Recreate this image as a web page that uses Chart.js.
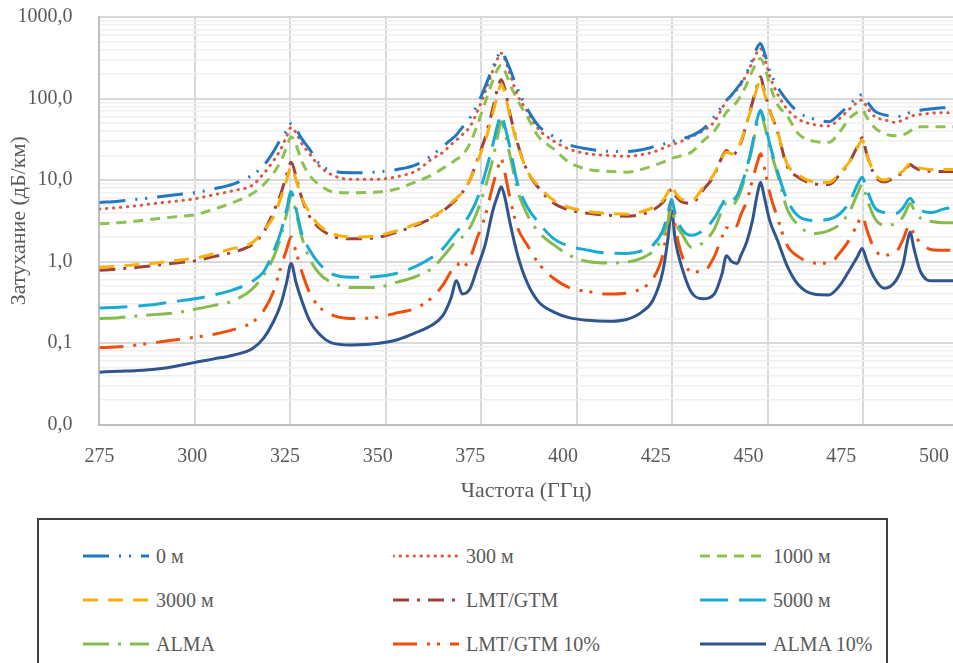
<!DOCTYPE html>
<html>
<head>
<meta charset="utf-8">
<script src="https://cdn.jsdelivr.net/npm/chart.js@4.4.1/dist/chart.umd.min.js"></script>
<style>
  html, body { margin: 0; padding: 0; background: #fff; width: 953px; height: 663px; overflow: hidden; }
  #wrap { position: absolute; left: 0; top: 0; width: 953px; height: 512px; }
  #legend {
    position: absolute; left: 37px; top: 518px; width: 851px; height: 180px;
    box-sizing: border-box; border: 2px solid #404040; background: #fff;
    display: grid; grid-template-columns: 310px 307px 200px; grid-auto-rows: 44px;
    padding: 14px 0 0 44px;
    font-family: "Liberation Serif", "Times New Roman", serif; font-size: 20px; color: #595959;
  }
  .item { display: flex; align-items: center; white-space: nowrap; }
  .item svg { flex: none; margin-right: 7px; }
</style>
</head>
<body>
<div id="wrap"><canvas id="c" width="953" height="512"></canvas></div>
<div id="legend"></div>
<script>
// ---------- DATA ----------
const freqs = [
  275, 280, 285, 290, 295, 300, 305, 310, 315, 318,
  320.5, 322.5, 324, 325.2, 326.5, 328, 330, 332.5, 336, 341,
  347, 353, 358, 362, 365, 367, 368.5, 370, 372, 374,
  376, 378, 379.3, 380.2, 381.2, 382.5, 384.5, 387, 390, 394,
  398, 403, 408, 413, 417, 420, 422.5, 423.8, 424.8, 425.8,
  427.5, 430, 433, 436, 438, 439.2, 440.5, 442, 443, 444.5,
  446, 447.2, 448.1, 449, 450.5, 452.5, 455, 458, 462, 466,
  469, 471.5, 473.5, 474.7, 476, 478, 480.5, 483.5, 485.5, 486.6,
  487.3, 488.2, 490, 493, 496, 498.5
];

const seriesNames = ['0 м', '300 м', '1000 м', '3000 м', 'LMT/GTM', '5000 м', 'ALMA', 'LMT/GTM 10%', 'ALMA 10%'];

const att0m = [
  5.3, 5.5, 5.8, 6.2, 6.6, 7.0, 7.8, 8.9, 11.5, 15,
  22, 32, 40, 49, 42, 32, 24, 16, 13, 12.3,
  12.5, 13.5, 15.5, 20, 26, 31, 36, 44, 58, 85,
  140, 240, 330, 380, 320, 230, 130, 75, 46, 34,
  27, 24, 22.5, 22.4, 23.5, 25.5, 27.5, 28.5, 29.5, 30.5,
  32, 35, 42, 60, 80, 95, 110, 135, 155, 210,
  300, 420, 474, 380, 220, 140, 95, 68, 56, 52,
  66, 85, 104, 111, 92, 70, 63, 60, 62, 65,
  68, 70, 72, 75, 77, 77
];
const att300m = [
  4.4, 4.6, 4.85, 5.2, 5.5, 5.9, 6.6, 7.4, 8.6, 12,
  17, 24, 34, 44, 38, 28, 21, 15, 11.5, 10.2,
  10.2, 11, 13, 18, 22, 27, 31, 36, 45, 70,
  120, 220, 310, 360, 300, 200, 110, 70, 42, 30,
  24, 21, 20, 19.5, 20.5, 22, 24.5, 26, 27, 28,
  30, 34, 40, 52, 75, 95, 110, 130, 150, 200,
  280, 370, 410, 330, 190, 115, 75, 56, 48, 46,
  58, 75, 90, 96, 78, 60, 55, 51, 55, 58,
  60, 62, 64, 66, 67, 67
];
const att1000m = [
  2.9, 3.0, 3.15, 3.35, 3.55, 3.75, 4.4, 5.3, 6.8, 8.8,
  12, 17, 25, 34, 27, 17, 11.5, 8.8, 7.2, 7.0,
  7.1, 7.8, 9.6, 11.5, 14, 16, 18, 20, 28, 48,
  90, 165, 230, 258, 215, 150, 95, 60, 34, 24,
  16.5, 13.5, 12.8, 12.5, 13.5, 15, 16.5, 17.5, 18.5, 19,
  20, 22, 30, 40, 55, 68, 78, 92, 110, 150,
  220, 280, 310, 260, 150, 85, 62, 37, 30, 29,
  40, 58, 68, 73, 58, 44, 37, 35, 36, 38,
  40, 43, 45, 45, 45, 45
];
const att3000m = [
  0.85, 0.88, 0.92, 0.96, 1.03, 1.10, 1.25, 1.45, 1.7, 2.4,
  3.5, 6.0, 10, 14.5, 10, 6, 4.0, 2.8, 2.2, 2.0,
  2.05, 2.4, 2.9, 3.5, 4.3, 5.2, 6.0, 7.0, 10, 17,
  30, 65, 115, 150, 115, 60, 27, 13, 8.4, 5.6,
  4.6, 4.1, 3.9, 3.8, 4.1, 4.6, 5.6, 7.0, 8.6, 7.0,
  5.8, 5.6, 8.0, 12, 19, 22, 21, 24, 30, 50,
  85, 135, 170, 120, 70, 40, 16, 11.5, 9.5, 9.3,
  12.5, 17, 25, 31, 20, 12, 10, 11.5, 13, 15,
  16, 15, 14, 13.5, 13.5, 13.5
];
const attLmt = [
  0.78, 0.81, 0.85, 0.90, 0.96, 1.02, 1.15, 1.30, 1.62, 2.3,
  4.0, 6.8, 11.5, 16.5, 11, 6, 3.6, 2.6, 2.05, 1.9,
  1.95, 2.3, 2.8, 3.4, 4.2, 5.0, 5.8, 7, 10, 18,
  33, 75, 135, 170, 130, 65, 28, 13, 8, 5.2,
  4.3, 3.9, 3.7, 3.6, 3.8, 4.3, 5.3, 6.5, 7.8, 6.5,
  5.4, 5.2, 7.5, 11.5, 19, 23, 20, 23, 29, 50,
  90, 145, 185, 130, 72, 40, 15, 10.8, 9, 8.8,
  12, 17, 26, 33, 20, 11.5, 9.5, 11, 12.5, 14.5,
  15.5, 14.5, 13.2, 12.8, 12.7, 12.7
];
const att5000m = [
  0.27, 0.275, 0.285, 0.30, 0.325, 0.35, 0.39, 0.45, 0.57, 0.75,
  1.3, 2.3, 4.3, 7.2, 4.4, 2.2, 1.4, 0.95, 0.70, 0.64,
  0.65, 0.72, 0.88, 1.12, 1.45, 1.9, 2.3, 2.8, 3.8, 6,
  12, 27, 48, 63, 45, 25, 9, 4.7, 3.0, 1.9,
  1.55, 1.38, 1.27, 1.26, 1.35, 1.6, 2.4, 3.8, 5.8, 3.8,
  2.5, 2.1, 2.4, 3.4, 5.0, 6.0, 5.6, 6.5, 8.5, 14,
  28, 55, 72, 55, 28, 13, 5.8, 3.6, 3.2, 3.3,
  3.9, 5.5, 8.8, 10.8, 7.5, 4.6, 4.0, 3.9, 4.6, 5.6,
  6.0, 5.3, 4.3, 4.0, 4.4, 4.6
];
const attAlma = [
  0.20, 0.205, 0.215, 0.225, 0.235, 0.26, 0.29, 0.33, 0.46, 0.68,
  1.1, 2.0, 3.8, 6.3, 4.0, 2.0, 1.1, 0.72, 0.55, 0.48,
  0.48, 0.56, 0.66, 0.82, 1.15, 1.5, 1.8, 2.0, 2.6, 4.2,
  8.0, 18, 35, 52, 38, 20, 7.5, 3.8, 2.3, 1.6,
  1.2, 1.0, 0.96, 0.98, 1.1, 1.35, 2.0, 3.0, 4.5, 3.0,
  2.2, 1.5, 1.7, 2.5, 4.2, 5.2, 4.8, 5.8, 7.5, 13,
  26, 50, 68, 50, 25, 12, 4.5, 2.8, 2.2, 2.4,
  2.9, 4.2, 6.8, 8.8, 5.8, 3.4, 2.8, 2.9, 3.6, 4.6,
  5.2, 4.4, 3.4, 3.1, 3.0, 3.0
];
const attLmt10 = [
  0.088, 0.090, 0.095, 0.102, 0.110, 0.118, 0.128, 0.146, 0.18, 0.25,
  0.42, 0.85, 1.4, 2.0, 1.3, 0.75, 0.42, 0.28, 0.22, 0.20,
  0.205, 0.235, 0.27, 0.36, 0.52, 0.75, 0.95, 0.85, 1.1, 2.0,
  3.6, 8.5, 14, 18, 12, 6.0, 2.6, 1.6, 0.95, 0.62,
  0.48, 0.43, 0.40, 0.41, 0.47, 0.62, 1.2, 2.8, 5.5, 2.6,
  1.2, 0.75, 0.75, 1.15, 2.0, 2.6, 2.4, 2.8, 3.8, 5.5,
  10, 16, 21, 15, 7, 3.5, 1.6, 1.15, 0.96, 0.95,
  1.3, 1.9, 2.9, 3.6, 2.4, 1.4, 1.2, 1.3, 1.9, 2.6,
  2.8, 2.2, 1.7, 1.4, 1.38, 1.38
];
const attAlma10 = [
  0.044, 0.045, 0.046, 0.048, 0.052, 0.058, 0.064, 0.071, 0.085, 0.115,
  0.18, 0.30, 0.55, 0.95, 0.55, 0.33, 0.19, 0.13, 0.10, 0.095,
  0.098, 0.11, 0.135, 0.165, 0.22, 0.35, 0.58, 0.40, 0.46, 0.85,
  1.6, 4.2, 6.5, 8.3, 6.0, 3.0, 1.2, 0.55, 0.32, 0.24,
  0.205, 0.19, 0.185, 0.195, 0.24, 0.34, 0.75, 1.8, 4.2, 1.8,
  0.85, 0.42, 0.35, 0.40, 0.70, 1.18, 1.0, 0.95, 1.2, 1.75,
  3.2, 6.5, 9.4, 6.5, 3.2, 1.85, 0.9, 0.52, 0.40, 0.39,
  0.52, 0.8, 1.15, 1.45, 1.0, 0.62, 0.47, 0.58, 0.95, 1.8,
  2.3, 1.5, 0.75, 0.58, 0.58, 0.58
];

const xTickLabels = [275, 300, 325, 350, 375, 400, 425, 450, 475, 500];
const yMin = 0.01, yMax = 1000;

// ---------- STYLES ----------
const seriesValues = [att0m, att300m, att1000m, att3000m, attLmt, att5000m, attAlma, attLmt10, attAlma10];
const seriesColors = ['#2178BE', '#DC5A44', '#8DC253', '#F7B10A', '#A0413A', '#1AABD2', '#86BC4E', '#F04E0C', '#30558E'];
const seriesDash = [
  [26, 10, 2, 8, 2, 10],
  [0.5, 6.5],
  [10, 7],
  [15, 10],
  [16, 8, 3, 8],
  [28, 11],
  [26, 9, 3, 9],
  [24, 10, 3, 7, 3, 10],
  []
];
const seriesCap = ['butt', 'round', 'butt', 'butt', 'butt', 'butt', 'butt', 'butt', 'butt'];

const FONT = '"Liberation Serif", "Times New Roman", serif';
const TEXT = '#595959';

function isDecade(v) {
  const l = Math.log10(v);
  return Math.abs(l - Math.round(l)) < 1e-9;
}
function buildLogTicks() {
  const t = [];
  for (let e = Math.log10(yMin); e < Math.log10(yMax); e++) {
    for (let k = 1; k <= 9; k++) t.push({ value: k * Math.pow(10, e) });
  }
  t.push({ value: yMax });
  return t;
}

const datasets = seriesNames.map((name, i) => ({
  label: name,
  data: freqs.map((f, j) => ({ x: f, y: seriesValues[i][j] })),
  borderColor: seriesColors[i],
  backgroundColor: seriesColors[i],
  borderDash: seriesDash[i],
  borderCapStyle: seriesCap[i],
  borderWidth: 3,
  pointRadius: 0,
  fill: false,
  cubicInterpolationMode: 'monotone',
  xAxisID: 'x',
  yAxisID: 'y'
}));

const chart = new Chart(document.getElementById('c'), {
  type: 'line',
  data: { datasets },
  options: {
    responsive: false,
    animation: false,
    devicePixelRatio: 1,
    layout: { padding: { top: 17, left: 0, right: 0, bottom: 4 } },
    plugins: { legend: { display: false }, tooltip: { enabled: false } },
    scales: {
      x: {
        type: 'linear', position: 'bottom', weight: 0,
        min: xTickLabels[0], max: 498.5,
        afterBuildTicks: (s) => { s.ticks = xTickLabels.filter(v => v <= s.max).map(v => ({ value: v })); },
        ticks: { display: false, autoSkip: false },
        grid: { drawTicks: false, color: '#d9d9d9', lineWidth: 2 },
        border: { display: true, color: '#bfbfbf', width: 2 }
      },
      x2: {
        type: 'linear', position: 'bottom', weight: 1,
        min: xTickLabels[0], max: 505.1,
        afterBuildTicks: (s) => { s.ticks = xTickLabels.map(v => ({ value: v })); },
        afterFit: (s) => { s.paddingRight = 0; s.paddingLeft = 0; },
        ticks: { autoSkip: false, maxRotation: 0, padding: 20, color: TEXT, font: { family: FONT, size: 20 } },
        grid: { display: false, drawTicks: false },
        border: { display: false },
        title: { display: true, text: 'Частота (ГГц)', color: TEXT, font: { family: FONT, size: 22 }, padding: { top: -11, bottom: 4 } }
      },
      y: {
        type: 'logarithmic', position: 'left',
        min: yMin, max: yMax,
        afterBuildTicks: (s) => { s.ticks = buildLogTicks(); },
        afterFit: (s) => { s.paddingTop = 0; s.paddingBottom = 0; },
        ticks: {
          autoSkip: false, padding: 27, color: TEXT, font: { family: FONT, size: 20 },
          callback: (v) => isDecade(v) ? Number(v).toFixed(1).replace('.', ',') : ''
        },
        grid: {
          drawTicks: false,
          color: (ctx) => (ctx.tick && isDecade(ctx.tick.value)) ? '#d9d9d9' : '#f0f0f0',
          lineWidth: (ctx) => (ctx.tick && isDecade(ctx.tick.value)) ? 2 : 1.5
        },
        border: { display: true, color: '#bfbfbf', width: 2 },
        title: { display: true, text: 'Затухание (дБ/км)', color: TEXT, font: { family: FONT, size: 22 }, padding: { top: 6, bottom: -42 } }
      }
    }
  }
});

// ---------- HTML legend built from the chart's datasets ----------
const legendEl = document.getElementById('legend');
chart.data.datasets.forEach((ds) => {
  const item = document.createElement('div');
  item.className = 'item';
  const ns = 'http://www.w3.org/2000/svg';
  const svg = document.createElementNS(ns, 'svg');
  svg.setAttribute('width', '66'); svg.setAttribute('height', '12');
  const ln = document.createElementNS(ns, 'line');
  ln.setAttribute('x1', '0'); ln.setAttribute('x2', '66');
  ln.setAttribute('y1', '6'); ln.setAttribute('y2', '6');
  ln.setAttribute('stroke', ds.borderColor);
  ln.setAttribute('stroke-width', '3');
  ln.setAttribute('stroke-linecap', ds.borderCapStyle);
  if (ds.borderDash.length) ln.setAttribute('stroke-dasharray', ds.borderDash.join(' '));
  svg.appendChild(ln);
  const sp = document.createElement('span');
  sp.textContent = ds.label;
  item.appendChild(svg); item.appendChild(sp);
  legendEl.appendChild(item);
});
</script>
</body>
</html>
